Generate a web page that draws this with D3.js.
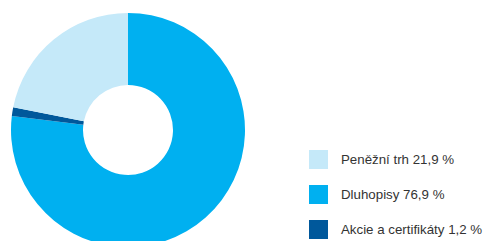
<!DOCTYPE html>
<html>
<head>
<meta charset="utf-8">
<script src="https://cdn.jsdelivr.net/npm/d3@7"></script>
<style>
  body { margin: 0; background: #fff; }
  svg { display: block; }
</style>
</head>
<body>
<div id="chart"></div>
<script>
const labels = ["Peněžní trh", "Dluhopisy", "Akcie a certifikáty"];
const values = [21.9, 76.9, 1.2];
const colors = ["#c5e9f9", "#00b0f0", "#00589b"];
// drawing order of the ring, clockwise from 12 o'clock
const ringOrder = [1, 2, 0];

const width = 483;
const height = 241;
const cx = 128;
const cy = 130;
const outerR = 117;
const innerR = 45;

const svg = d3.select("#chart")
    .append("svg")
    .attr("width", width)
    .attr("height", height);

const pie = d3.pie()
    .sort(null)
    .value(i => values[i]);

const arc = d3.arc()
    .innerRadius(innerR)
    .outerRadius(outerR);

svg.append("g")
    .attr("transform", `translate(${cx},${cy})`)
    .selectAll("path")
    .data(pie(ringOrder))
    .join("path")
    .attr("fill", d => colors[d.data])
    .attr("d", arc);

const fmt = v => v.toFixed(1).replace(".", ",");

const legendY = d3.scalePoint()
    .domain(d3.range(labels.length))
    .range([150, 220]);

const legend = svg.append("g")
    .selectAll("g")
    .data(d3.range(labels.length))
    .join("g")
    .attr("transform", i => `translate(309,${legendY(i)})`);

legend.append("rect")
    .attr("width", 19)
    .attr("height", 19)
    .attr("fill", i => colors[i]);

legend.append("text")
    .attr("x", 32)
    .attr("y", 9.5)
    .attr("dy", "0.35em")
    .attr("font-family", "Liberation Sans, Arial, sans-serif")
    .attr("font-size", 13.3)
    .attr("fill", "#333")
    .text(i => `${labels[i]} ${fmt(values[i])} %`);
</script>
</body>
</html>
